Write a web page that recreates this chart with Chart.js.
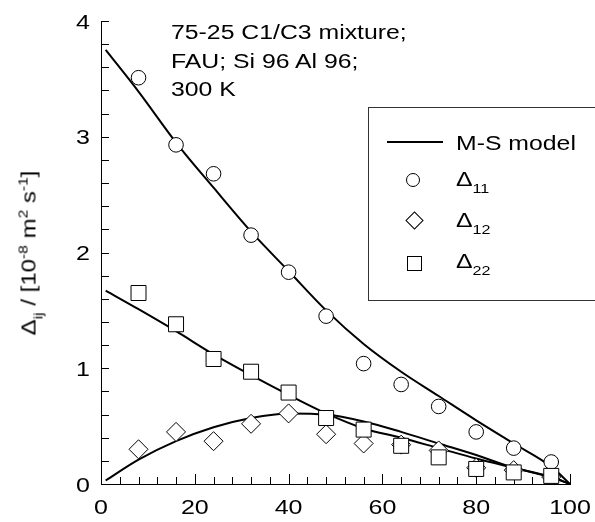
<!DOCTYPE html>
<html>
<head>
<meta charset="utf-8">
<script src="https://cdn.jsdelivr.net/npm/chart.js@4"></script>
<style>
  body { margin: 0; background: #fff; }
  #wrap { position: relative; width: 595px; height: 522px; overflow: hidden; font-family: "Liberation Sans", Arial, sans-serif; color: #000; }
  #c { position: absolute; left: 0; top: 0; }
  .txt { position: absolute; font-size: 20px; white-space: nowrap; transform-origin: left top; transform: scaleX(1.24); }
  .note { line-height: 28.7px; left: 171px; top: 18px; }
  .leg { line-height: 20px; left: 456px; }
  .sub { position: relative; font-size: 13px; top: 7px; }
  .sup { position: relative; font-size: 13px; top: -8px; }
  #legbox { position: absolute; left: 368px; top: 107px; width: 260px; height: 192px; border: 1px solid #333; }
  .sym { position: absolute; box-sizing: border-box; border: 1px solid #000; background: #fff; }
  #ytitle { position: absolute; left: 30px; top: 253px; font-size: 20px; line-height: 24px; white-space: nowrap;
            transform: translate(-50%, -50%) rotate(-90deg) scaleX(1.2); }
</style>
</head>
<body>
<div id="wrap">
  <canvas id="c" width="595" height="522"></canvas>

  <div class="txt note">75-25 C1/C3 mixture;<br>FAU; Si 96 Al 96;<br>300 K</div>

  <div id="ytitle">Δ<span class="sub">ij</span> / [10<span class="sup">-8</span> m<span class="sup">2</span> s<span class="sup">-1</span>]</div>

  <div id="legbox"></div>
  <div style="position:absolute;left:387px;top:141px;width:56px;height:2px;background:#000"></div>
  <div class="sym" style="left:406px;top:173px;width:14px;height:14px;border-radius:50%"></div>
  <div class="sym" style="left:408px;top:214px;width:13px;height:13px;transform:rotate(45deg)"></div>
  <div class="sym" style="left:407px;top:256px;width:15px;height:15px"></div>
  <div class="txt leg" style="top:133px">M-S model</div>
  <div class="txt leg" style="top:169px">Δ<span class="sub">11</span></div>
  <div class="txt leg" style="top:210px">Δ<span class="sub">12</span></div>
  <div class="txt leg" style="top:251px">Δ<span class="sub">22</span></div>
</div>

<script>
// simulated points (mole fraction / % on x)
const xExp = [8, 16, 24, 32, 40, 48, 56, 64, 72, 80, 88, 96];
const d11Exp = [3.51, 2.93, 2.68, 2.15, 1.83, 1.45, 1.04, 0.86, 0.67, 0.45, 0.31, 0.19];
const d12Exp = [0.30, 0.45, 0.37, 0.52, 0.61, 0.43, 0.35, 0.34, 0.29, 0.14, 0.12, 0.06];
const d22Exp = [1.65, 1.38, 1.08, 0.97, 0.79, 0.57, 0.47, 0.33, 0.23, 0.13, 0.10, 0.07];

// M-S model curves
const xModel = [1, 8, 16, 24, 32, 40, 48, 56, 64, 72, 80, 88, 96, 100];
const d11Model = [3.75, 3.39, 2.95, 2.56, 2.18, 1.84, 1.50, 1.21, 0.97, 0.76, 0.55, 0.35, 0.15, 0];
const d12Model = [0.03, 0.21, 0.37, 0.49, 0.57, 0.61, 0.60, 0.54, 0.45, 0.35, 0.25, 0.14, 0.06, 0];
const d22Model = [1.67, 1.51, 1.32, 1.12, 0.94, 0.77, 0.61, 0.48, 0.40, 0.31, 0.22, 0.14, 0.06, 0];

// axis ticks
const xTickLabels = [0, 20, 40, 60, 80, 100];
const yTickLabels = [0, 1, 2, 3, 4];
const xMinorStep = 4;
const yMinorStep = 0.2;

const pts = (xs, ys) => xs.map((x, i) => ({ x: x, y: ys[i] }));

const modelLine = (ys) => ({
    data: pts(xModel, ys),
    showLine: true,
    borderColor: '#000',
    borderWidth: 2,
    pointRadius: 0,
    cubicInterpolationMode: 'monotone',
    order: 10
});

const marker = (ys, style, r, order) => ({
    data: pts(xExp, ys),
    showLine: false,
    pointStyle: style,
    pointRadius: r,
    pointBorderWidth: 1,
    pointBorderColor: '#000',
    pointBackgroundColor: '#fff',
    order: order
});

// inward ticks and stretched tick labels
const axisTicks = {
    id: 'axisTicks',
    beforeDatasetsDraw(chart) {
        const { ctx, chartArea } = chart;
        const x = chart.scales.x, y = chart.scales.y;
        ctx.save();
        ctx.strokeStyle = '#000';
        ctx.lineWidth = 1;
        ctx.beginPath();
        for (let v = x.min; v <= x.max + 1e-9; v += xMinorStep) {
            const px = Math.round(x.getPixelForValue(v)) + 0.5;
            const len = xTickLabels.includes(Math.round(v)) ? 10 : 7;
            ctx.moveTo(px, chartArea.bottom);
            ctx.lineTo(px, chartArea.bottom - len);
        }
        for (let v = y.min; v <= y.max + 1e-9; v += yMinorStep) {
            const py = Math.round(y.getPixelForValue(v)) + 0.5;
            ctx.moveTo(chartArea.left, py);
            ctx.lineTo(chartArea.left + 8, py);
        }
        ctx.stroke();

        ctx.fillStyle = '#000';
        ctx.font = '20px "Liberation Sans", Arial, sans-serif';
        ctx.textBaseline = 'alphabetic';
        xTickLabels.forEach(v => {
            ctx.save();
            ctx.translate(x.getPixelForValue(v), chartArea.bottom + 29.5);
            ctx.scale(1.25, 1);
            ctx.textAlign = 'center';
            ctx.fillText(String(v), 0, 0);
            ctx.restore();
        });
        yTickLabels.forEach(v => {
            ctx.save();
            ctx.translate(chartArea.left - 11, y.getPixelForValue(v) + 7.5);
            ctx.scale(1.25, 1);
            ctx.textAlign = 'right';
            ctx.fillText(String(v), 0, 0);
            ctx.restore();
        });
        ctx.restore();
    }
};

new Chart(document.getElementById('c'), {
    type: 'scatter',
    data: {
        datasets: [
            modelLine(d11Model),
            modelLine(d12Model),
            modelLine(d22Model),
            marker(d12Exp, 'rectRot', 9.5, 3),
            marker(d11Exp, 'circle', 7.3, 2),
            marker(d22Exp, 'rect', 10.6, 1)
        ]
    },
    options: {
        responsive: false,
        animation: false,
        layout: { padding: { left: 0, right: 25, top: 21, bottom: 0 } },
        scales: {
            x: {
                type: 'linear',
                min: 0,
                max: 100,
                grid: { display: false, drawTicks: false },
                border: { display: true, color: '#000', width: 1 },
                ticks: { display: false },
                afterFit(scale) { scale.height = 38; }
            },
            y: {
                type: 'linear',
                min: 0,
                max: 4,
                grid: { display: false, drawTicks: false },
                border: { display: true, color: '#000', width: 1 },
                ticks: { display: false },
                afterFit(scale) { scale.width = 101; }
            }
        },
        plugins: {
            legend: { display: false },
            tooltip: { enabled: false }
        }
    },
    plugins: [axisTicks]
});
</script>
</body>
</html>
